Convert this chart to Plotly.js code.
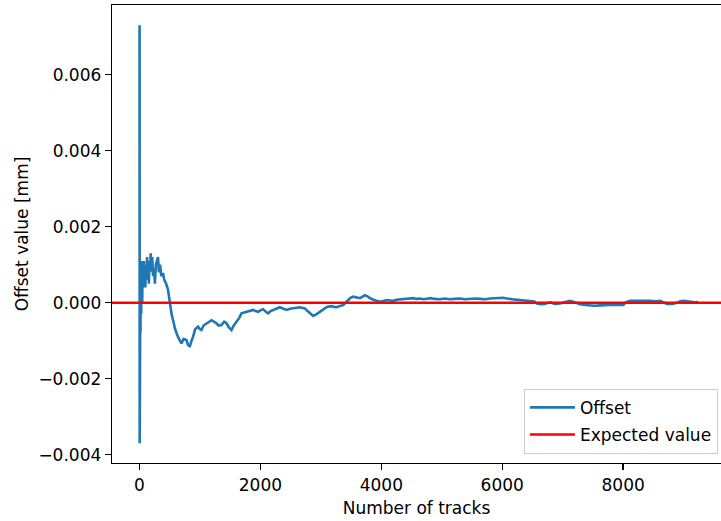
<!DOCTYPE html>
<html>
<head>
<meta charset="utf-8">
<script src="https://cdn.plot.ly/plotly-3.0.1.min.js"></script>
<style>
  html, body { margin: 0; padding: 0; background: #fff; overflow: hidden; }
  #chart { width: 721px; height: 521px; }
</style>
</head>
<body>
<div id="chart"></div>
<script>
// ---- data ----
const tracks = [1,2,3,4,5,6,7,8,9,10,12,14,16,19,22,25,28,32,36,40,45,50,55,60,66,72,80,88,96,105,115,125,135,145,155,165,175,185,197,210,225,240,255,270,290,306,320,340,360,389,410,440,472,500,530,555,590,637,665,694,730,776,800,831,860,886,920,969,1000,1025,1060,1108,1150,1190,1230,1273,1310,1356,1400,1439,1480,1522,1560,1604,1650,1687,1740,1796,1840,1879,1920,1962,2000,2045,2090,2127,2170,2210,2260,2321,2380,2432,2490,2541,2600,2652,2700,2735,2780,2818,2873,2930,2983,3040,3094,3130,3177,3220,3260,3310,3369,3410,3452,3490,3535,3590,3646,3690,3728,3770,3811,3870,3922,3960,4005,4050,4088,4140,4197,4250,4308,4360,4419,4470,4528,4580,4639,4700,4760,4820,4880,4970,5050,5130,5210,5301,5380,5460,5550,5632,5720,5800,5880,5950,6013,6080,6150,6220,6295,6380,6460,6530,6576,6640,6700,6791,6870,6957,7040,7122,7200,7288,7370,7454,7530,7619,7700,7785,7870,8000,8060,8116,8200,8280,8364,8450,8540,8620,8662,8730,8811,8880,8944,9000,9060,9109,9180,9242];

const offsetValues = [0.0073,0.0038,-0.0037,0.0026,-0.0011,0.0012,-0.0027,0.0004,-0.0009,0.0008,-0.0012,0.0006,-0.0008,0.0010,-0.0005,0.0007,-0.0003,0.0011,0.0002,0.0008,0.0000,0.0009,0.0004,0.0010,0.0005,0.0011,0.0006,0.0009,0.0004,0.0010,0.0006,0.0012,0.0007,0.0010,0.0005,0.0011,0.0008,0.0013,0.0010,0.0012,0.0007,0.0009,0.0005,0.0010,0.0011,0.0012,0.0008,0.0010,0.0007,0.00078,0.0006,0.0005,0.00034,-0.00002,-0.0003,-0.00046,-0.0007,-0.0009,-0.00098,-0.00107,-0.00095,-0.00098,-0.0011,-0.00116,-0.0010,-0.0009,-0.0007,-0.00063,-0.0007,-0.00072,-0.0006,-0.00054,-0.0005,-0.00046,-0.0005,-0.00054,-0.0006,-0.00059,-0.0005,-0.00054,-0.00065,-0.00072,-0.0006,-0.0005,-0.0004,-0.00028,-0.00026,-0.00024,-0.00021,-0.00019,-0.00022,-0.00024,-0.0002,-0.00017,-0.00024,-0.00028,-0.00022,-0.00019,-0.00015,-0.00012,-0.00016,-0.00019,-0.00016,-0.00015,-0.00013,-0.00012,-0.00014,-0.00015,-0.00022,-0.00028,-0.00035,-0.0003,-0.00024,-0.00017,-0.00012,-0.0001,-0.00009,-0.00011,-0.00012,-0.00009,-0.00006,0.0,0.00007,0.00013,0.00016,0.00013,0.00012,0.00016,0.0002,0.00017,0.00012,0.00008,0.00005,0.00003,0.00003,0.00006,0.00007,0.00006,0.00005,0.00008,0.00009,0.00008,0.00009,0.00011,0.00012,0.0001,0.00011,0.00009,0.0001,0.00012,0.0001,0.00009,0.00011,0.00009,0.0001,0.00011,0.00009,0.0001,0.00011,0.0001,0.00009,0.00011,0.00012,0.00011,0.00013,0.00011,0.00009,0.00008,0.00007,0.00006,0.00005,0.00003,-0.00002,-0.00004,-0.00003,0.00001,-0.00003,-0.00002,0.00002,0.00005,0.00001,-0.00004,-0.00006,-0.00007,-0.00008,-0.00007,-0.00006,-0.00006,-0.00005,-0.00006,0.00002,0.00005,0.00005,0.00006,0.00005,0.00005,0.00004,0.00005,0.00001,-0.00003,-0.00003,-0.00001,0.00004,0.00005,0.00004,0.00003,0.00001,0.00002];

const expectedValue = 0.0;
const seriesNames = ["Offset", "Expected value"];

const xTickVals = [0, 2000, 4000, 6000, 8000];
const xTickText = ["0", "2000", "4000", "6000", "8000"];
const yTickVals = [-0.004, -0.002, 0.0, 0.002, 0.004, 0.006];
const yTickText = ["\u22120.004", "\u22120.002", "0.000", "0.002", "0.004", "0.006"];

const xRange = [-455, 9619];
const yRange = [-0.004218, 0.007834];

const FONT = "DejaVu Sans, sans-serif";
const FS = 17;

const traces = [
  {
    x: tracks, y: offsetValues, type: "scatter", mode: "lines",
    name: seriesNames[0], legendgroup: "a",
    line: { color: "#1f77b4", width: 2.6 }
  },
  {
    x: xRange, y: [expectedValue, expectedValue], type: "scatter", mode: "lines",
    name: seriesNames[1], legendgroup: "b",
    line: { color: "#ff0000", width: 2.6 }
  }
];

const layout = {
  width: 721, height: 521,
  margin: { l: 112, r: 0, t: 5, b: 58 },
  paper_bgcolor: "#fff", plot_bgcolor: "#fff",
  font: { family: FONT, size: FS, color: "#000" },
  showlegend: true,
  legend: {
    x: 0.995, y: 0.02, xanchor: "right", yanchor: "bottom",
    bgcolor: "rgba(255,255,255,0.8)", bordercolor: "#cccccc", borderwidth: 1,
    font: { family: FONT, size: FS, color: "#000" },
    tracegroupgap: 2, traceorder: "grouped", itemwidth: 45
  },
  xaxis: {
    range: xRange, showgrid: false, zeroline: false,
    showline: true, linecolor: "#000", linewidth: 1.3, mirror: true,
    ticks: "outside", ticklen: 6, tickwidth: 1.3, tickcolor: "#000",
    tickvals: xTickVals, ticktext: xTickText,
    title: { text: "Number of tracks", font: { family: FONT, size: FS }, standoff: 8 }
  },
  yaxis: {
    range: yRange, showgrid: false, zeroline: false,
    showline: true, linecolor: "#000", linewidth: 1.3, mirror: false,
    ticks: "outside", ticklen: 6, tickwidth: 1.3, tickcolor: "#000",
    tickvals: yTickVals, ticktext: yTickText,
    title: { text: "Offset value [mm]", font: { family: FONT, size: FS }, standoff: 5 }
  }
};

Plotly.newPlot("chart", traces, layout, { staticPlot: true, displayModeBar: false });
</script>
</body>
</html>
